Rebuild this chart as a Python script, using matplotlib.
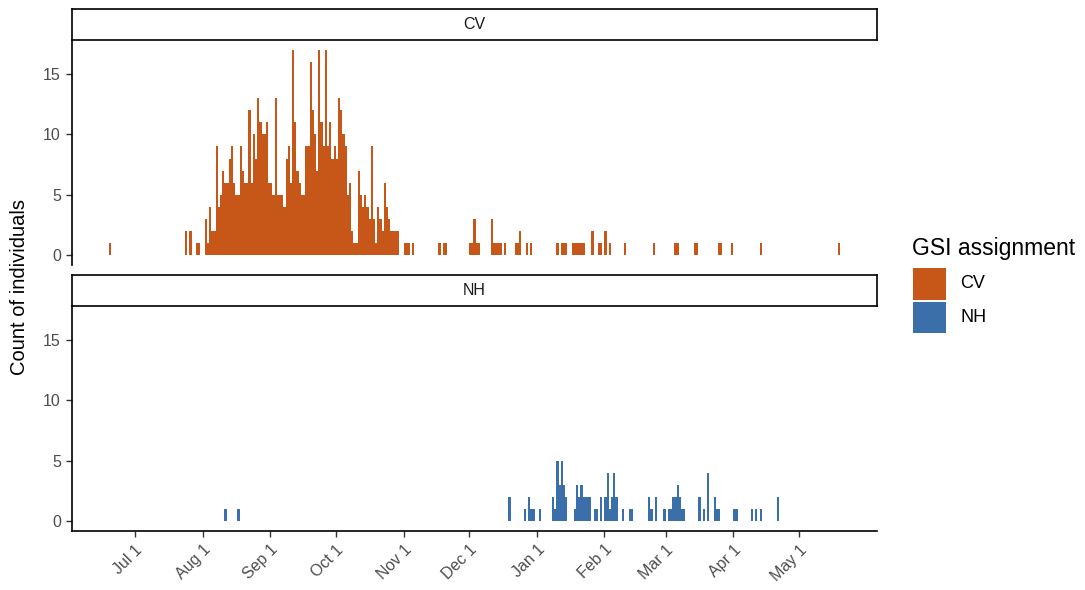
import numpy as np
import pandas as pd
import matplotlib
matplotlib.use("Agg")
import matplotlib.pyplot as plt
import matplotlib.dates as mdates
from matplotlib.patches import Rectangle

plt.rcParams['font.family'] = ['Liberation Sans', 'DejaVu Sans']

# daily counts of individuals per GSI reporting group
cv_early_dates = ["2018-06-19", "2018-07-24", "2018-07-26", "2018-07-29", "2018-07-30"]
cv_early_counts = [1, 2, 2, 1, 1]

# consecutive days starting Aug 2
cv_run_start = "2018-08-02"
cv_run_counts = [3, 1, 4, 2, 2, 9, 4, 5, 7, 6,
                 6, 8, 9, 6, 5, 5, 9, 7, 6, 6,
                 12, 6, 10, 8, 13, 11, 10, 10, 11, 6,
                 6, 5, 13, 5, 5, 5, 4, 8, 9, 6,
                 17, 11, 7, 6, 5, 5, 9, 9, 16, 12,
                 10, 7, 17, 11, 9, 17, 9, 11, 8, 9,
                 8, 13, 12, 10, 9, 5, 6, 2, 1, 1,
                 7, 5, 4, 5, 4, 3, 9, 3, 1, 4,
                 3, 2, 6, 4, 3, 2, 2, 2, 2]

cv_late_dates = ["2018-11-01", "2018-11-02", "2018-11-03", "2018-11-05",
                 "2018-11-17", "2018-11-19", "2018-11-20",
                 "2018-12-01", "2018-12-02", "2018-12-03", "2018-12-04", "2018-12-05",
                 "2018-12-11", "2018-12-12", "2018-12-13", "2018-12-14", "2018-12-15",
                 "2018-12-17", "2018-12-22", "2018-12-23", "2018-12-24",
                 "2018-12-27", "2018-12-29",
                 "2019-01-10", "2019-01-12", "2019-01-13", "2019-01-14",
                 "2019-01-17", "2019-01-18", "2019-01-19", "2019-01-20", "2019-01-21",
                 "2019-01-22", "2019-01-26", "2019-01-29", "2019-01-30",
                 "2019-02-01", "2019-02-03", "2019-02-10", "2019-02-23",
                 "2019-03-05", "2019-03-06", "2019-03-14", "2019-03-15",
                 "2019-03-25", "2019-03-26", "2019-03-31", "2019-04-13", "2019-05-19"]
cv_late_counts = [1, 1, 1, 1,
                  1, 1, 1,
                  1, 1, 3, 1, 1,
                  3, 1, 1, 1, 1,
                  1, 1, 1, 2,
                  1, 1,
                  1, 1, 1, 1,
                  1, 1, 1, 1, 1,
                  1, 2, 1, 1,
                  2, 1, 1, 1,
                  1, 1, 1, 1,
                  1, 1, 1, 1, 1]

nh_dates = ["2018-08-11", "2018-08-17",
            "2018-12-19", "2018-12-26", "2018-12-28", "2018-12-29", "2018-12-30",
            "2019-01-02", "2019-01-08", "2019-01-09", "2019-01-10", "2019-01-11",
            "2019-01-12", "2019-01-13", "2019-01-14", "2019-01-18", "2019-01-19",
            "2019-01-20", "2019-01-21", "2019-01-22", "2019-01-23", "2019-01-24",
            "2019-01-25", "2019-01-27", "2019-01-28", "2019-01-30",
            "2019-02-01", "2019-02-02", "2019-02-03", "2019-02-04", "2019-02-05",
            "2019-02-06", "2019-02-09", "2019-02-12", "2019-02-13",
            "2019-02-21", "2019-02-22", "2019-02-24", "2019-02-28",
            "2019-03-02", "2019-03-03", "2019-03-04", "2019-03-05", "2019-03-06",
            "2019-03-07", "2019-03-08", "2019-03-09", "2019-03-16", "2019-03-18",
            "2019-03-20", "2019-03-23", "2019-03-24", "2019-03-25",
            "2019-04-01", "2019-04-02", "2019-04-09", "2019-04-11", "2019-04-13",
            "2019-04-21"]
nh_counts = [1, 1,
             2, 1, 2, 1, 1,
             1, 2, 1, 5, 3,
             5, 3, 2, 1, 3,
             2, 3, 2, 2, 2,
             2, 1, 1, 2,
             2, 4, 1, 2, 4,
             2, 1, 1, 1,
             2, 1, 2, 1,
             1, 1, 2, 2, 3,
             2, 1, 1, 2, 1,
             4, 2, 1, 1,
             1, 1, 1, 1, 1,
             2]

groups = ["CV", "NH"]
colors = {"CV": "#C75619", "NH": "#3A6FAA"}
tick_dates = ["2018-07-01", "2018-08-01", "2018-09-01", "2018-10-01", "2018-11-01",
              "2018-12-01", "2019-01-01", "2019-02-01", "2019-03-01", "2019-04-01",
              "2019-05-01"]
tick_labels = ["Jul 1", "Aug 1", "Sep 1", "Oct 1", "Nov 1", "Dec 1",
               "Jan 1", "Feb 1", "Mar 1", "Apr 1", "May 1"]

cv_days = pd.concat([
    pd.Series(cv_early_counts, index=pd.to_datetime(cv_early_dates)),
    pd.Series(cv_run_counts, index=pd.date_range(cv_run_start, periods=len(cv_run_counts))),
    pd.Series(cv_late_counts, index=pd.to_datetime(cv_late_dates)),
])
nh_days = pd.Series(nh_counts, index=pd.to_datetime(nh_dates))
daily = {"CV": cv_days, "NH": nh_days}

W, H = 1085, 590
fig = plt.figure(figsize=(W / 100, H / 100), dpi=100)

def fbox(x0, y0, x1, y1):
    return [x0 / W, 1 - y1 / H, (x1 - x0) / W, (y1 - y0) / H]

panel_px = {"CV": (40, 265), "NH": (306, 531)}
strip_px = {"CV": (9, 40), "NH": (275, 306)}
left, right = 72, 877

all_x = np.concatenate([mdates.date2num(s.index) for s in daily.values()])
xmin, xmax = all_x.min(), all_x.max() + 1
pad = 0.05 * (xmax - xmin)

tick_size = 11.5
axes = {}
for i, g in enumerate(groups):
    y0, y1 = panel_px[g]
    ax = fig.add_axes(fbox(left, y0, right, y1))
    s = daily[g]
    ax.bar(mdates.date2num(s.index), s.values, width=1, align="edge",
           color=colors[g], linewidth=0)
    ax.set_xlim(xmin - pad, xmax + pad)
    ax.set_ylim(-0.85, 17.85)
    ax.set_yticks([0, 5, 10, 15])
    ax.tick_params(axis="y", labelsize=tick_size, labelcolor="#4D4D4D", color="#333333",
                   length=4, width=1, pad=4)
    for side in ["top", "right"]:
        ax.spines[side].set_visible(False)
    ax.spines["left"].set_linewidth(1.2)
    ax.spines["bottom"].set_linewidth(1.2)
    xt = mdates.date2num(pd.to_datetime(tick_dates))
    ax.set_xticks(xt)
    if g == "NH":
        ax.set_xticklabels(tick_labels, rotation=45, ha="right", va="top",
                           rotation_mode="anchor")
        ax.tick_params(axis="x", labelsize=tick_size, labelcolor="#4D4D4D", color="#333333",
                       length=4, width=1, pad=4)
    else:
        ax.spines["bottom"].set_visible(False)
        ax.tick_params(axis="x", bottom=False, labelbottom=False)
    axes[g] = ax

    # facet strip
    sy0, sy1 = strip_px[g]
    sax = fig.add_axes(fbox(left, sy0, right, sy1))
    sax.set_xticks([])
    sax.set_yticks([])
    for sp in sax.spines.values():
        sp.set_linewidth(1.2)
        sp.set_color("black")
    sax.text(0.5, 0.5, g, transform=sax.transAxes, ha="center", va="center",
             fontsize=11.5, color="#1A1A1A")

fig.text(20 / W, 1 - 287 / H, "Count of individuals", rotation=90,
         ha="center", va="center", fontsize=14.5)

# legend
fig.text(912 / W, 1 - 249 / H, "GSI assignment", ha="left", va="center", fontsize=16.5)
key_px = {"CV": (268, 300), "NH": (302, 333)}
for g in groups:
    ky0, ky1 = key_px[g]
    fig.patches.append(Rectangle((913 / W, 1 - ky1 / H), 33 / W, (ky1 - ky0) / H,
                                 transform=fig.transFigure, facecolor=colors[g],
                                 edgecolor="none"))
    fig.text(960 / W, 1 - (ky0 + ky1) / 2 / H, g, ha="left", va="center", fontsize=13)

fig.savefig("out.png", dpi=100)
